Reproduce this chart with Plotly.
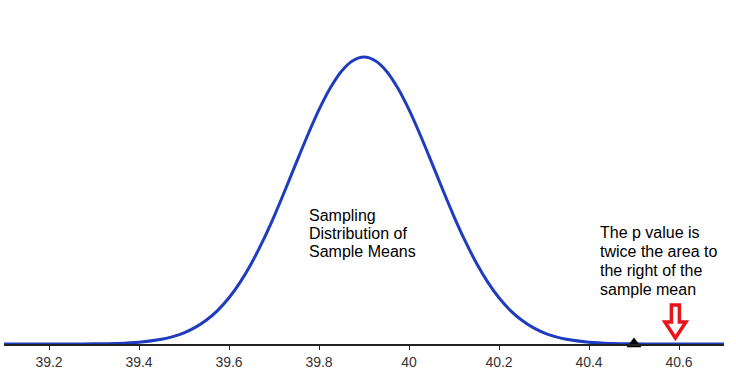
import plotly.graph_objects as go

# ---- data ----
curve_x = [39.10, 39.15, 39.20, 39.25, 39.30, 39.35, 39.40, 39.45, 39.475, 39.50,
           39.525, 39.55, 39.575, 39.60, 39.625, 39.65, 39.675, 39.70, 39.725, 39.75,
           39.775, 39.80, 39.825, 39.85, 39.875, 39.90, 39.925, 39.95, 39.975, 40.00,
           40.025, 40.05, 40.075, 40.10, 40.125, 40.15, 40.175, 40.20, 40.225, 40.25,
           40.275, 40.30, 40.325, 40.35, 40.40, 40.45, 40.50, 40.55, 40.60, 40.65,
           40.70]
curve_y = [0.0, 0.0, 0.0001, 0.0005, 0.0017, 0.0055, 0.016, 0.042, 0.065, 0.099,
           0.147, 0.212, 0.298, 0.409, 0.548, 0.715, 0.910, 1.128, 1.365, 1.610,
           1.850, 2.074, 2.266, 2.415, 2.508, 2.540, 2.508, 2.415, 2.266, 2.074,
           1.850, 1.610, 1.365, 1.128, 0.910, 0.715, 0.548, 0.409, 0.298, 0.212,
           0.147, 0.099, 0.065, 0.042, 0.016, 0.0055, 0.0017, 0.0005, 0.0001, 0.0,
           0.0]
tick_vals = [39.2, 39.4, 39.6, 39.8, 40.0, 40.2, 40.4, 40.6]
tick_text = ["39.2", "39.4", "39.6", "39.8", "40", "40.2", "40.4", "40.6"]
sample_mean = 40.5
arrow_x = 40.592
label_x = 39.773
label_lines = ["Sampling", "Distribution of", "Sample Means"]
note_x = 40.42
note_lines = ["The p value is", "twice the area to", "the right of the", "sample mean"]

W, H = 736, 378
M_L, M_R, M_T, M_B = 4, 12, 0, 34
PLOT_H = H - M_T - M_B
Y_TOP = 3.045

FONT = "Arial, Liberation Sans, sans-serif"
BLUE = "#1f3cbf"
RED = "#e8141c"

fig = go.Figure()
fig.add_trace(go.Scatter(
    x=curve_x, y=curve_y, mode="lines",
    line=dict(color=BLUE, width=3, shape="spline", smoothing=0.8),
    hoverinfo="skip", cliponaxis=False,
))
fig.add_trace(go.Scatter(
    x=[sample_mean], y=[0], mode="markers",
    marker=dict(symbol="triangle-up", size=13, color="black"),
    hoverinfo="skip", cliponaxis=False,
))

def px_to_paper(py):
    # py: pixel row from the top of the figure
    return (H - M_B - py) / PLOT_H

annotations = []
for i, t in enumerate(label_lines):
    annotations.append(dict(
        x=label_x, xref="x", y=px_to_paper(215 + 18 * i), yref="paper",
        text=t, showarrow=False, xanchor="left", yanchor="middle",
        font=dict(family=FONT, size=16, color="black"),
    ))
for i, t in enumerate(note_lines):
    annotations.append(dict(
        x=note_x, xref="x", y=px_to_paper(232 + 19.3 * i), yref="paper",
        text=t, showarrow=False, xanchor="left", yanchor="middle",
        font=dict(family=FONT, size=16, color="black"),
    ))

# hollow down arrow (pixel-sized, anchored at arrow_x on the baseline)
arrow_path = ("M 0 6 L -10.5 22 L -4 22 L -4 39 L 4 39 L 4 22 L 10.5 22 Z")
shapes = [dict(
    type="path", xref="x", yref="y",
    xsizemode="pixel", ysizemode="pixel",
    xanchor=arrow_x, yanchor=0,
    path=arrow_path,
    line=dict(color=RED, width=3.5), fillcolor="white",
)]

fig.update_layout(
    width=W, height=H,
    margin=dict(l=M_L, r=M_R, t=M_T, b=M_B),
    paper_bgcolor="white", plot_bgcolor="white",
    showlegend=False,
    annotations=annotations, shapes=shapes,
    xaxis=dict(
        range=[39.1, 40.7], tickvals=tick_vals, ticktext=tick_text,
        showgrid=False, zeroline=False,
        showline=True, linecolor="#222", linewidth=2,
        ticks="outside", ticklen=4, tickcolor="#222", tickwidth=1,
        tickfont=dict(family=FONT, size=14, color="#333"),
    ),
    yaxis=dict(range=[0, Y_TOP], visible=False, showgrid=False, zeroline=False),
)
fig.write_html("out.html", config={"displayModeBar": False},
               post_script="document.body.style.margin='0';")
